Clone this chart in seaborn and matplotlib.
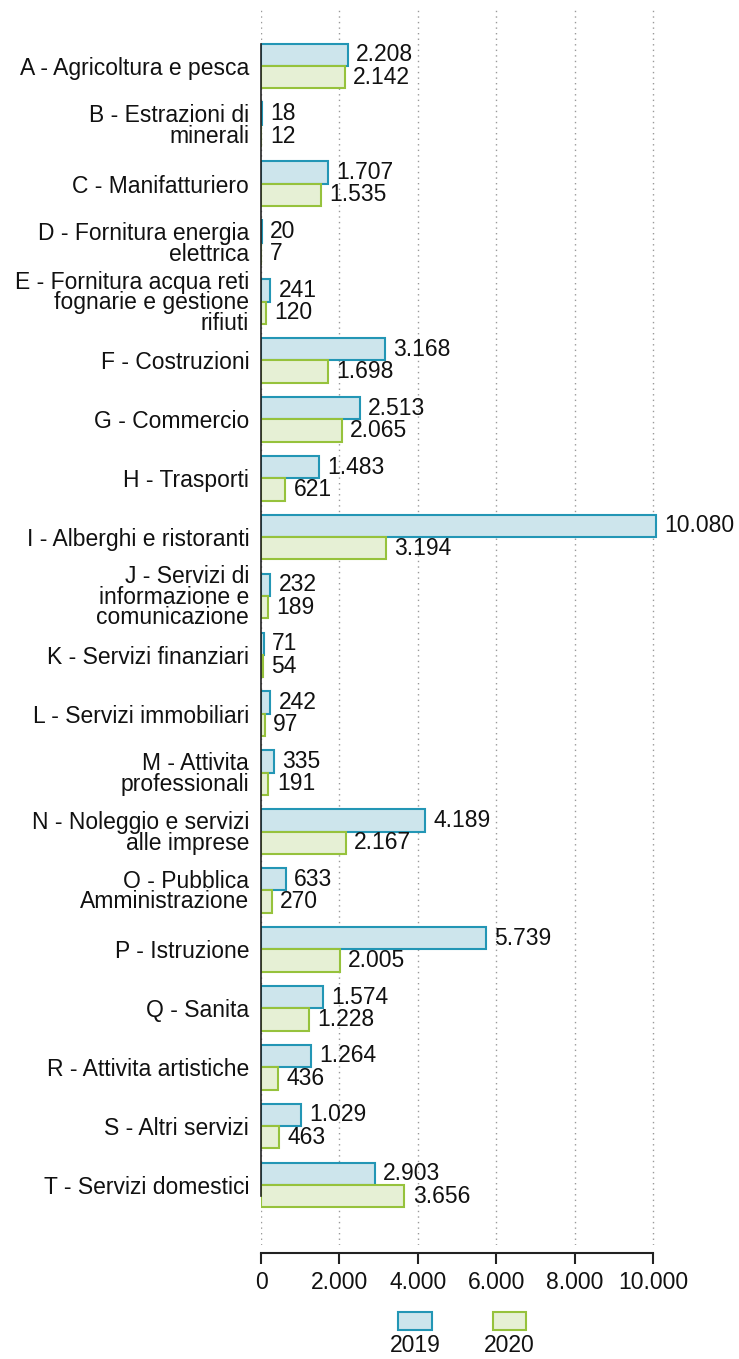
import matplotlib
matplotlib.use("Agg")
import matplotlib.pyplot as plt
import seaborn as sns
import pandas as pd
from matplotlib.patches import Rectangle

categories = [
    "A - Agricoltura e pesca",
    "B - Estrazioni di\nminerali",
    "C - Manifatturiero",
    "D - Fornitura energia\nelettrica",
    "E - Fornitura acqua reti\nfognarie e gestione\nrifiuti",
    "F - Costruzioni",
    "G - Commercio",
    "H - Trasporti",
    "I - Alberghi e ristoranti",
    "J - Servizi di\ninformazione e\ncomunicazione",
    "K - Servizi finanziari",
    "L - Servizi immobiliari",
    "M - Attivita\nprofessionali",
    "N - Noleggio e servizi\nalle imprese",
    "O - Pubblica\nAmministrazione",
    "P - Istruzione",
    "Q - Sanita",
    "R - Attivita artistiche",
    "S - Altri servizi",
    "T - Servizi domestici",
]
values_2019 = [2208, 18, 1707, 20, 241, 3168, 2513, 1483, 10080, 232,
               71, 242, 335, 4189, 633, 5739, 1574, 1264, 1029, 2903]
values_2020 = [2142, 12, 1535, 7, 120, 1698, 2065, 621, 3194, 189,
               54, 97, 191, 2167, 270, 2005, 1228, 436, 463, 3656]
series = ["2019", "2020"]
x_ticks = [0, 2000, 4000, 6000, 8000, 10000]

fill_colors = {"2019": "#cde5ec", "2020": "#e6f0d5"}
edge_colors = {"2019": "#2396b5", "2020": "#96c23c"}

def fmt(v):
    return f"{v:,}".replace(",", ".")

df = pd.DataFrame({
    "cat": categories * 2,
    "year": ["2019"] * len(categories) + ["2020"] * len(categories),
    "value": values_2019 + values_2020,
})

sns.set_style("white")
plt.rcParams["font.family"] = ["Liberation Sans", "DejaVu Sans"]
FS = 16.5

W, H = 739, 1359
fig = plt.figure(figsize=(W / 100, H / 100), dpi=100)
ax = fig.add_axes([261 / W, 1 - 1245 / H, (715 - 261) / W, (1245 - 10) / H])

sns.barplot(data=df, y="cat", x="value", hue="year", orient="h",
            order=categories, hue_order=series,
            palette=fill_colors, width=0.76, ax=ax, legend=False,
            saturation=1)

for cont, yr, vals in zip(ax.containers, series, [values_2019, values_2020]):
    for p in cont:
        p.set_edgecolor(edge_colors[yr])
        p.set_linewidth(1.5)
    ax.bar_label(cont, labels=[fmt(v) for v in vals], padding=6, fontsize=FS,
                 color="#111111")

scale_px = (653 - 261) / 10000
ax.set_xlim(0, (715 - 261) / scale_px)
ax.set_ylim(len(categories) - 1 + 1.02, -0.95)

ax.grid(axis="x", linestyle=(0, (1, 3)), color="#999999", linewidth=1.0)
ax.grid(axis="y", visible=False)
ax.set_axisbelow(True)

for s in ["top", "right"]:
    ax.spines[s].set_visible(False)
ax.spines["bottom"].set_position(("outward", 6))
ax.spines["bottom"].set_bounds(0, 10000)
ax.spines["bottom"].set_color("#222222")
ax.spines["bottom"].set_linewidth(1.5)
ax.spines["left"].set_bounds(-0.38, 19.18)
ax.spines["left"].set_color("#222222")
ax.spines["left"].set_linewidth(1.2)

ax.set_xticks(x_ticks)
ax.set_xticklabels([fmt(t) for t in x_ticks])
ax.set_yticks(range(len(categories)))
ax.set_yticklabels(categories, linespacing=0.86)
ax.set_xlabel("")
ax.set_ylabel("")

ax.tick_params(axis="x", bottom=True, length=8, width=1.5, color="#222222",
               pad=5, labelcolor="#111111", labelsize=FS)
ax.tick_params(axis="y", left=False, pad=5, labelcolor="#111111", labelsize=FS)

# legend: swatches above labels
for (x0, x1), yr in zip([(398, 432), (493, 526)], series):
    fig.patches.append(Rectangle((x0 / W, 1 - 1330 / H), (x1 - x0) / W, 18 / H,
                                 transform=fig.transFigure,
                                 facecolor=fill_colors[yr],
                                 edgecolor=edge_colors[yr], linewidth=1.5))
    fig.text((x0 + x1) / 2 / W, 1 - 1346 / H, yr, ha="center", va="center",
             fontsize=FS, color="#111111")

fig.savefig("out.png", dpi=100)
